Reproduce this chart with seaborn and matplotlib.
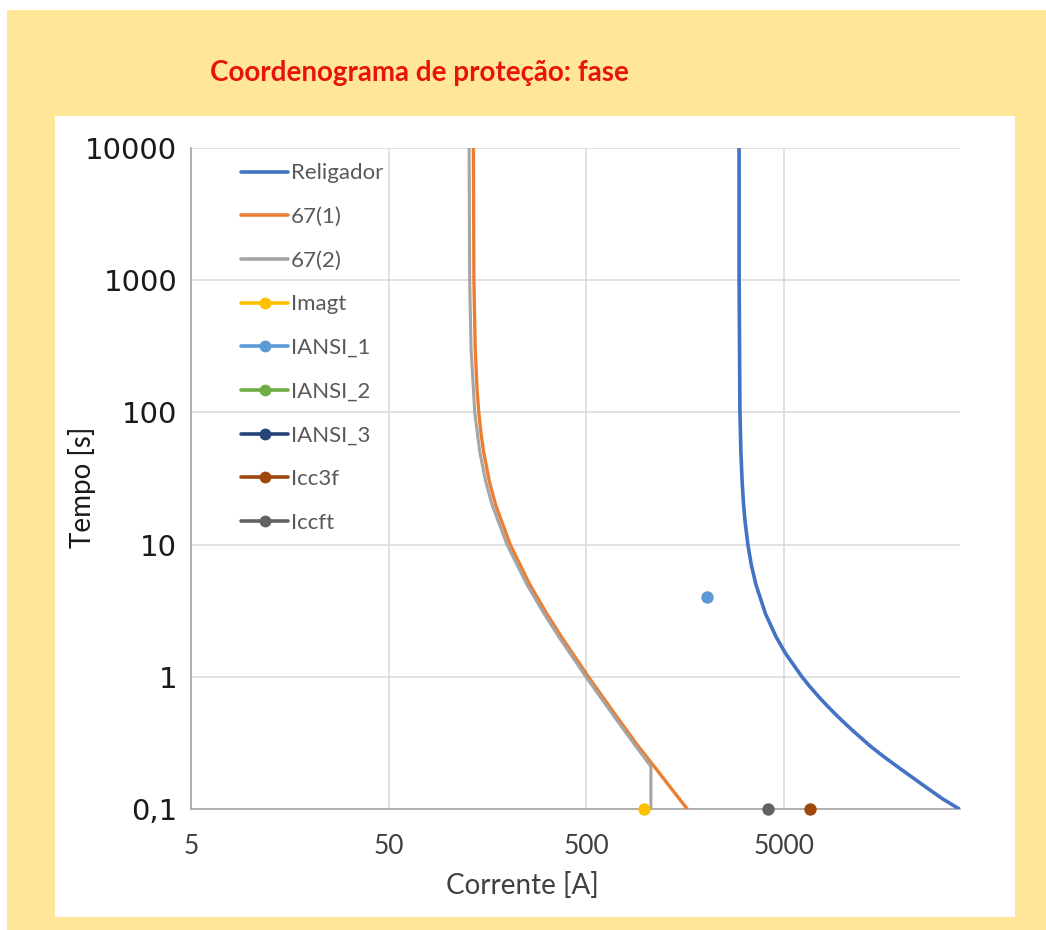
import numpy as np
import pandas as pd
import matplotlib
matplotlib.use("Agg")
import matplotlib.pyplot as plt
from matplotlib.lines import Line2D
from matplotlib.patches import Rectangle
from matplotlib.ticker import FixedLocator, FixedFormatter, NullLocator
import seaborn as sns

# ---------------- data ----------------
relig_I = [2960, 2962, 2990, 3024, 3067, 3120, 3173, 3280, 3416, 3600, 4026, 4559,
           5091, 6157, 6719, 7527, 8288, 9354, 10950, 13616, 15900, 19500, 25500, 31500, 38500]
relig_t = [10000, 1000, 100, 50, 30, 20, 15, 10, 7, 5, 3, 2,
           1.5, 1, 0.85, 0.7, 0.6, 0.5, 0.4, 0.3, 0.25, 0.2, 0.15, 0.12, 0.1]

f67_1_I = [134.1, 134.9, 137.0, 139.9, 142.8, 146.4, 151.1, 161.5, 173.7, 205.9, 258.4,
           315.2, 374.2, 512, 711.6, 912, 1130, 1310, 1620]
f67_1_t = [10000, 1000, 300, 150, 100, 70, 50, 30, 20, 10, 5,
           3, 2, 1, 0.5, 0.3, 0.2, 0.15, 0.1]

f67_2_I = [127.6, 128.4, 130.5, 136.2, 144.5, 154.8, 166.7, 198.3, 249.9, 305.3,
           362.9, 497.1, 691.3, 886.4, 1060, 1060]
f67_2_t = [10000, 1000, 300, 100, 50, 30, 20, 10, 5, 3,
           2, 1, 0.5, 0.3, 0.21, 0.1]

imagt_I, imagt_t = [977], [0.1]
iansi1_I, iansi1_t = [2030], [4.0]
iansi2_I, iansi2_t = [], []
iansi3_I, iansi3_t = [], []
icc3f_I, icc3f_t = [6800], [0.1]
iccft_I, iccft_t = [4160], [0.1]

x_ticks = [5, 50, 500, 5000]
x_labels = ["5", "50", "500", "5000"]
y_ticks = [0.1, 1, 10, 100, 1000, 10000]
y_labels = ["0,1", "1", "10", "100", "1000", "10000"]

title = "Coordenograma de proteção: fase"
xlabel = "Corrente [A]"
ylabel = "Tempo [s]"

# ---------------- styling ----------------
sns.set_theme(style="white")
plt.rcParams['font.family'] = ['Lato', 'DejaVu Sans']

line_series = [
    ("Religador", relig_I, relig_t, "#4472C4", 2.6),
    ("67(1)", f67_1_I, f67_1_t, "#ED7D31", 2.4),
    ("67(2)", f67_2_I, f67_2_t, "#A5A5A5", 2.2),
]
point_series = [
    ("Imagt", imagt_I, imagt_t, "#FFC000"),
    ("IANSI_1", iansi1_I, iansi1_t, "#5B9BD5"),
    ("IANSI_2", iansi2_I, iansi2_t, "#70AD47"),
    ("IANSI_3", iansi3_I, iansi3_t, "#264478"),
    ("Icc3f", icc3f_I, icc3f_t, "#9E480E"),
    ("Iccft", iccft_I, iccft_t, "#636363"),
]

W, H = 1046, 930
fig = plt.figure(figsize=(W / 100, H / 100), dpi=100)
fig.patch.set_facecolor("white")
# yellow frame and white chart area
fig.add_artist(Rectangle((7 / W, 0), 1 - 7 / W, 1 - 10 / H, transform=fig.transFigure,
                         facecolor="#FFE699", edgecolor="none", zorder=-10))
fig.add_artist(Rectangle((55 / W, 1 - 917 / H), (1015 - 55) / W, (917 - 116) / H,
                         transform=fig.transFigure, facecolor="white",
                         edgecolor="none", zorder=-9))

ax = fig.add_axes([191 / W, 1 - 809 / H, (960 - 191) / W, (809 - 148) / H])
ax.set_facecolor("white")
ax.patch.set_alpha(0)

for name, I, t, c, lw in line_series:
    df = pd.DataFrame({"I": I, "t": t})
    sns.lineplot(data=df, x="I", y="t", ax=ax, color=c, linewidth=lw,
                 sort=False, estimator=None, zorder=3)

for name, I, t, c in point_series:
    if len(I):
        df = pd.DataFrame({"I": I, "t": t})
        sns.scatterplot(data=df, x="I", y="t", ax=ax, color=c, s=80,
                        edgecolor=c, linewidth=0, zorder=4, clip_on=False)

ax.set_xscale("log")
ax.set_yscale("log")
ax.set_xlim(5, 38800)
ax.set_ylim(0.1, 10000)

ax.xaxis.set_major_locator(FixedLocator(x_ticks))
ax.xaxis.set_major_formatter(FixedFormatter(x_labels))
ax.xaxis.set_minor_locator(NullLocator())
ax.yaxis.set_major_locator(FixedLocator(y_ticks))
ax.yaxis.set_major_formatter(FixedFormatter(y_labels))
ax.yaxis.set_minor_locator(NullLocator())

ax.grid(True, which="major", color="#D9D9D9", linewidth=1.1)
ax.set_axisbelow(True)
for s in ["top", "right"]:
    ax.spines[s].set_visible(False)
for s in ["left", "bottom"]:
    ax.spines[s].set_color("#A6A6A6")
    ax.spines[s].set_linewidth(1.2)
ax.tick_params(axis="both", length=0)
ax.tick_params(axis="x", pad=18, labelsize=19, labelcolor="#404040")
ax.tick_params(axis="y", pad=10, labelsize=21, labelcolor="#1a1a1a")
for lab in ax.get_yticklabels():
    lab.set_fontfamily("DejaVu Sans")

ax.set_xlabel(xlabel, fontsize=20, color="#404040")
ax.xaxis.set_label_coords((522 - 191) / 769, (809 - 885) / 661)
ax.xaxis.label.set_va("center")
ax.set_ylabel(ylabel, fontsize=20, color="#1a1a1a")
ax.yaxis.set_label_coords((82 - 191) / 769, (809 - 487) / 661)
ax.yaxis.label.set_va("center")

handles = []
for name, I, t, c, lw in line_series:
    handles.append(Line2D([], [], color=c, lw=2.6, label=name))
for name, I, t, c in point_series:
    handles.append(Line2D([], [], color=c, lw=2.6, marker="o", markersize=7.5,
                          label=name))
leg = ax.legend(handles=handles, loc="upper left", bbox_to_anchor=(0.053, 0.990),
                frameon=False, fontsize=16, handlelength=2.15, handletextpad=0.12,
                labelspacing=1.065, borderaxespad=0)
for txt in leg.get_texts():
    txt.set_color("#595959")

fig.text(210 / W, 1 - 73 / H, title, color="#E8140C", fontsize=20,
         fontweight="bold", ha="left", va="center")

fig.savefig("out.png", dpi=100)
